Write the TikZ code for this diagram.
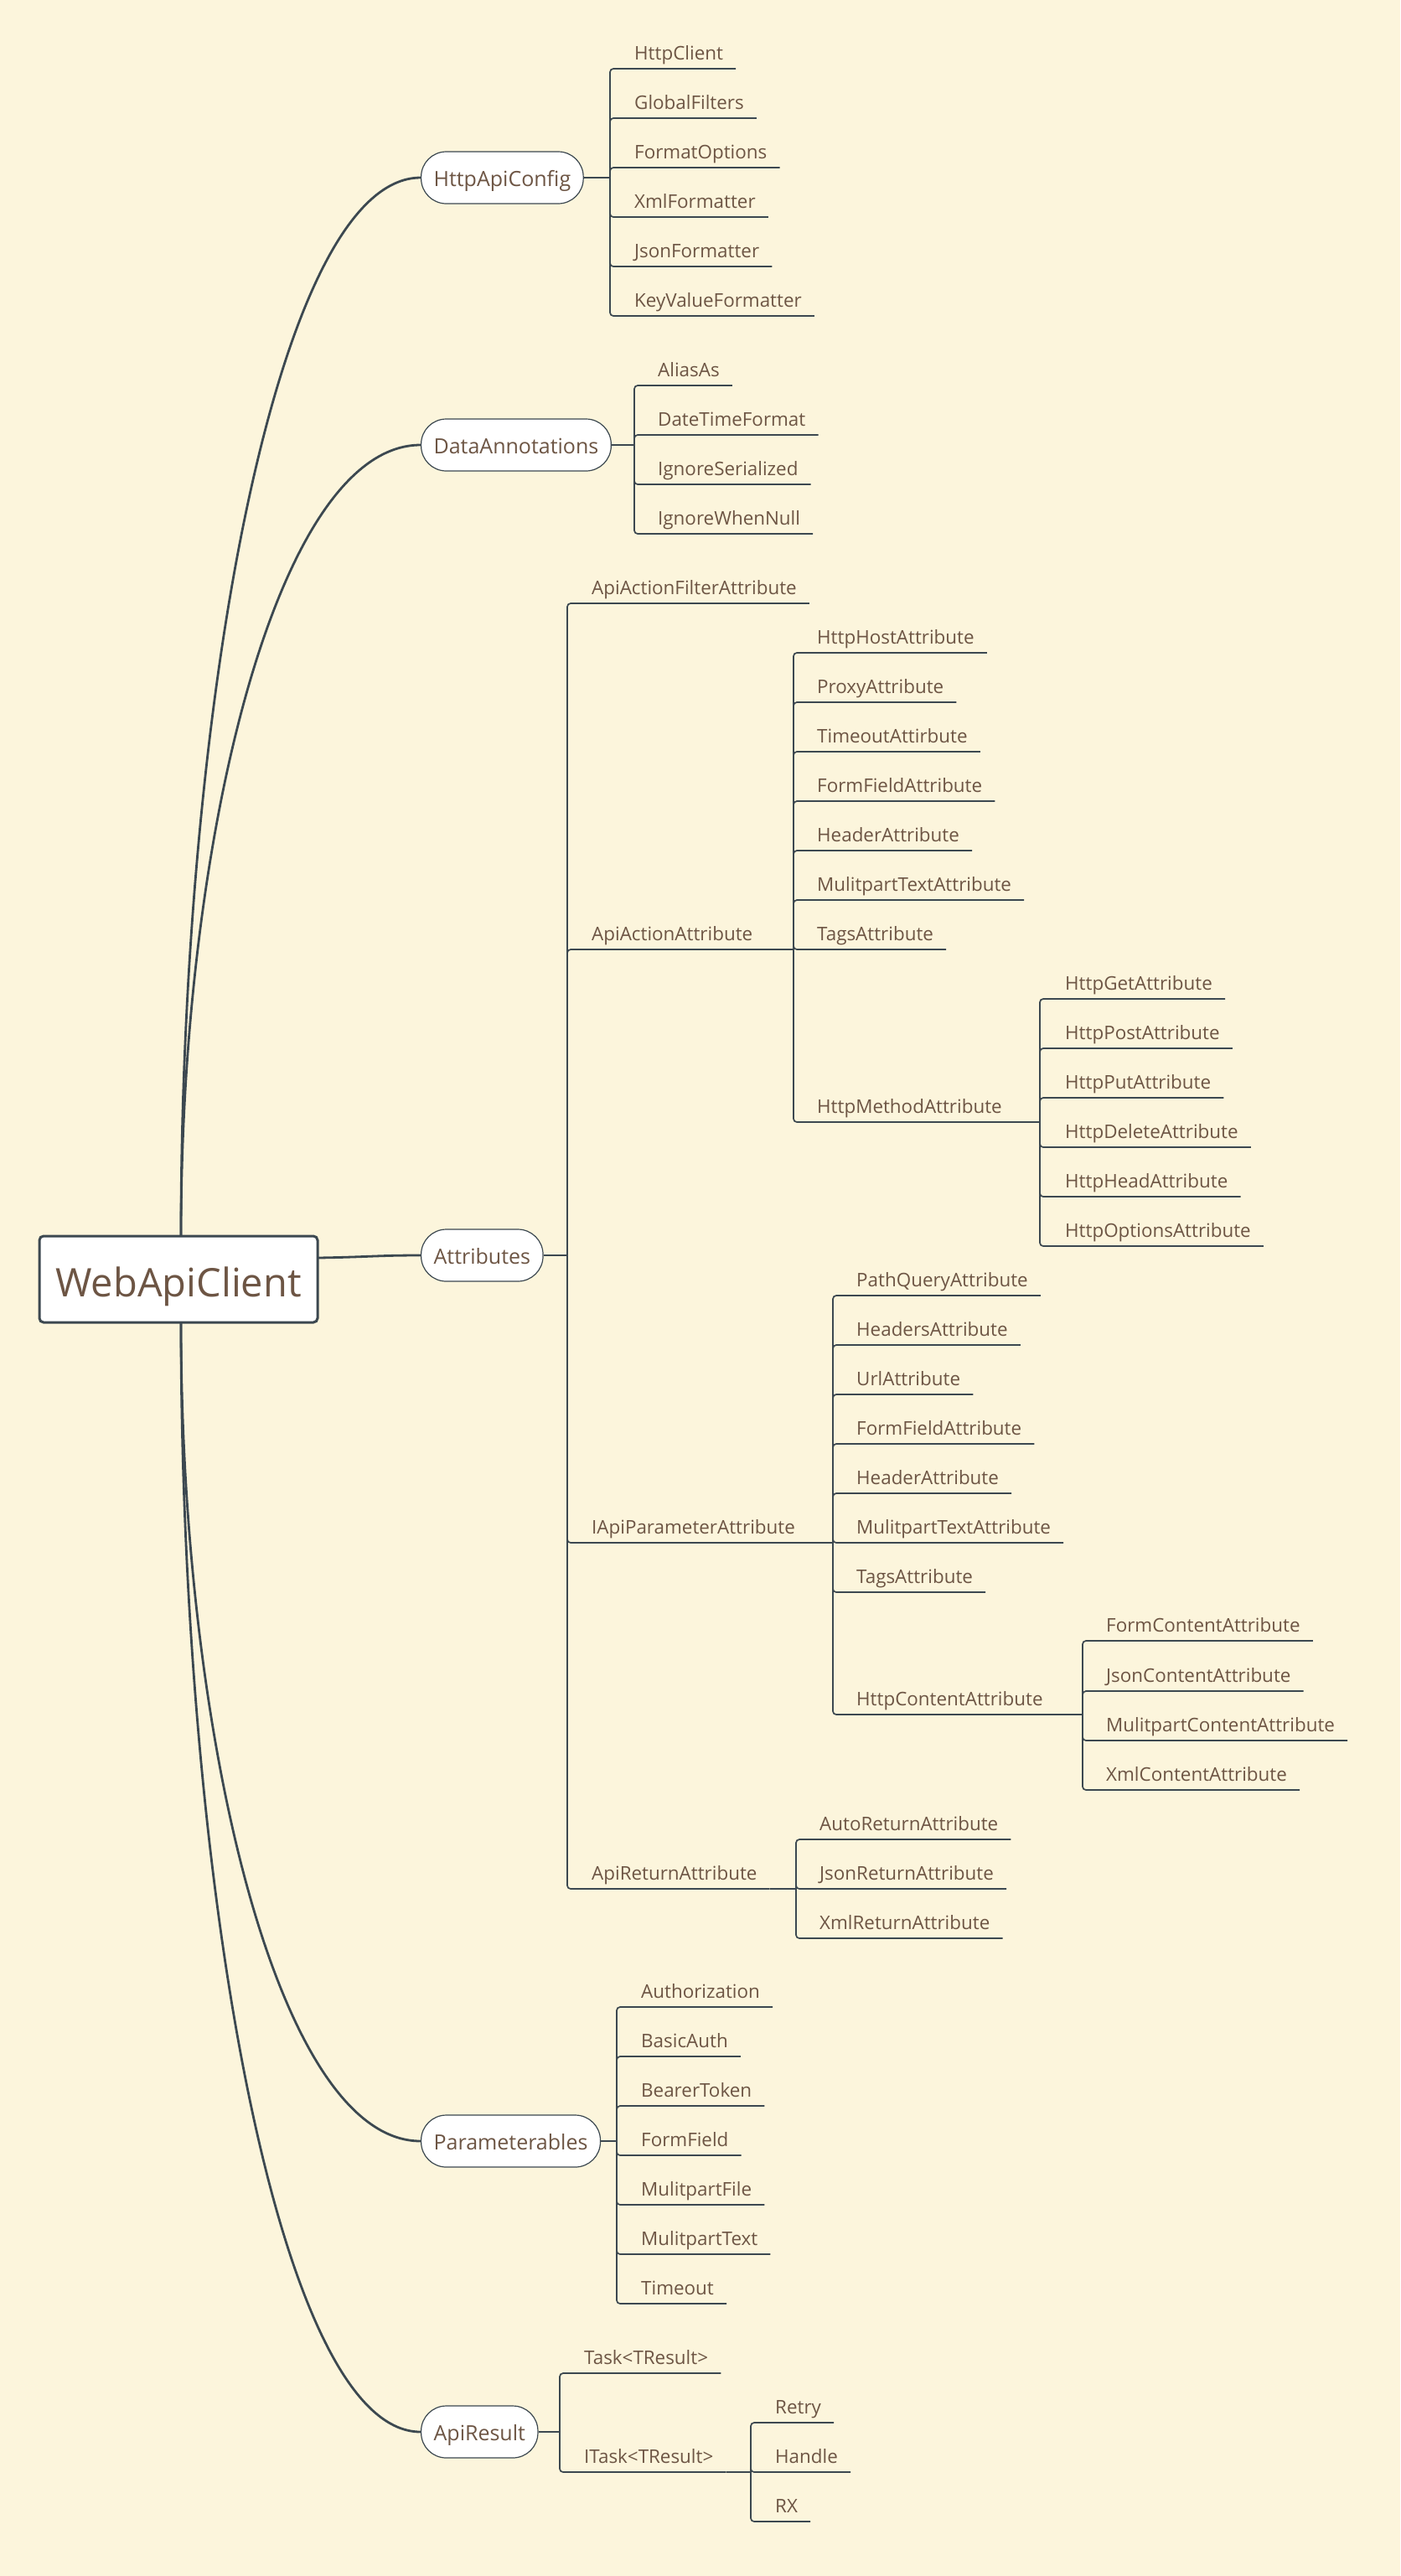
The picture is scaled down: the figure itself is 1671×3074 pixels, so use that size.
\documentclass[tikz,border=0pt]{standalone}
\usepackage{fontspec}
\setmainfont{Open Sans}
\usetikzlibrary{calc}
\definecolor{bgc}{HTML}{FCF5DC}
\definecolor{linec}{HTML}{3C4850}
\definecolor{txtc}{HTML}{6D5544}
\newcommand\mkleaf[4]{\node[leaf] (#1) at (#2,#3-11) {#4};}
\newcommand\mkbranch[2]{\draw[branch] (#1) |- ($(#2.base east)+(15,11)$);}
\begin{document}
\begin{tikzpicture}[x=1pt,y=-1pt,
  leaf/.style={inner sep=0pt, anchor=base west, text=txtc, font=\fontsize{22.4}{26}\selectfont},
  pill/.style={draw=linec, line width=1.2pt, fill=white, rounded corners=30pt, minimum height=62pt, inner xsep=15pt, inner ysep=0pt, text height=20pt, text depth=0pt, anchor=west, text=txtc, font=\fontsize{25}{30}\selectfont},
  rootbox/.style={draw=linec, line width=3pt, fill=white, rounded corners=5pt, minimum width=332pt, minimum height=103pt, inner sep=0pt, text height=41pt, text depth=0pt, text=txtc, font=\fontsize{47}{56}\selectfont},
  curvel/.style={draw=linec, line width=2.8pt},
  stem/.style={draw=linec, line width=2.6pt},
  branch/.style={draw=linec, line width=1.7pt, rounded corners=4pt},
]
\fill[bgc] (0,0) rectangle (1671,3074);
\useasboundingbox (0,0) rectangle (1671,3074);

% root and main nodes
\node[rootbox] (root) at (213,1526.5) {WebApiClient};
\node[pill] (hac) at (502,212) {HttpApiConfig};
\node[pill] (dan) at (502,531) {DataAnnotations};
\node[pill] (att) at (502,1498) {Attributes};
\node[pill] (par) at (502,2555) {Parameterables};
\node[pill] (res) at (502,2902) {ApiResult};

\coordinate (rt) at (216,1475);
\coordinate (rb) at (216,1578);
\coordinate (re) at (379,1501);
\draw[curvel] (rt) .. controls (216,843.5) and (330,212) .. (hac.west);
\draw[curvel] (rt) .. controls (216,1003) and (330,531) .. (dan.west);
\draw[curvel] (rb) .. controls (216,2066.5) and (330,2555) .. (par.west);
\draw[curvel] (rb) .. controls (216,2240) and (330,2902) .. (res.west);
\draw[curvel] (re) .. controls (440,1500) and (450,1498) .. (att.west);

% junctions
\coordinate (jA) at (728,212);
\coordinate (jD) at (757,531);
\coordinate (jT) at (677,1498);
\coordinate (jP) at (736,2555);
\coordinate (jR) at (668,2902);
\coordinate (j32) at (947,1133);
\coordinate (j328) at (1241,1339);
\coordinate (j33) at (994,1841);
\coordinate (j338) at (1292,2046);
\coordinate (j34) at (950,2254);
\coordinate (j52) at (896,2950);

\draw[stem] (hac.east) -- (jA);
\draw[stem] (dan.east) -- (jD);
\draw[stem] (att.east) -- (jT);
\draw[stem] (par.east) -- (jP);
\draw[stem] (res.east) -- (jR);

% HttpApiConfig
\mkleaf{n11}{757}{82}{HttpClient}
\mkleaf{n12}{757}{141}{GlobalFilters}
\mkleaf{n13}{757}{200}{FormatOptions}
\mkleaf{n14}{757}{259}{XmlFormatter}
\mkleaf{n15}{757}{318}{JsonFormatter}
\mkleaf{n16}{757}{377}{KeyValueFormatter}
\foreach \n in {n11,n12,n13,n14,n15,n16} {\mkbranch{jA}{\n}}

% DataAnnotations
\mkleaf{n21}{785}{460}{AliasAs}
\mkleaf{n22}{785}{519}{DateTimeFormat}
\mkleaf{n23}{785}{578}{IgnoreSerialized}
\mkleaf{n24}{785}{637}{IgnoreWhenNull}
\foreach \n in {n21,n22,n23,n24} {\mkbranch{jD}{\n}}

% Attributes
\mkleaf{n31}{706}{720}{ApiActionFilterAttribute}
\mkleaf{n32}{706}{1133}{ApiActionAttribute}
\mkleaf{n33}{706}{1841}{IApiParameterAttribute}
\mkleaf{n34}{706}{2254}{ApiReturnAttribute}
\foreach \n in {n31,n32,n33,n34} {\mkbranch{jT}{\n}}
\draw[stem] ($(n32.base east)+(15,11)$) -- (j32);
\draw[stem] ($(n33.base east)+(15,11)$) -- (j33);
\draw[stem] ($(n34.base east)+(15,11)$) -- (j34);

\mkleaf{n321}{975}{779}{HttpHostAttribute}
\mkleaf{n322}{975}{838}{ProxyAttribute}
\mkleaf{n323}{975}{897}{TimeoutAttirbute}
\mkleaf{n324}{975}{956}{FormFieldAttribute}
\mkleaf{n325}{975}{1015}{HeaderAttribute}
\mkleaf{n326}{975}{1074}{MulitpartTextAttribute}
\mkleaf{n327}{975}{1133}{TagsAttribute}
\mkleaf{n328}{975}{1339}{HttpMethodAttribute}
\foreach \n in {n321,n322,n323,n324,n325,n326,n327,n328} {\mkbranch{j32}{\n}}
\draw[stem] ($(n328.base east)+(15,11)$) -- (j328);

\mkleaf{n3281}{1271}{1192}{HttpGetAttribute}
\mkleaf{n3282}{1271}{1251}{HttpPostAttribute}
\mkleaf{n3283}{1271}{1310}{HttpPutAttribute}
\mkleaf{n3284}{1271}{1369}{HttpDeleteAttribute}
\mkleaf{n3285}{1271}{1428}{HttpHeadAttribute}
\mkleaf{n3286}{1271}{1487}{HttpOptionsAttribute}
\foreach \n in {n3281,n3282,n3283,n3284,n3285,n3286} {\mkbranch{j328}{\n}}

\mkleaf{n331}{1022}{1546}{PathQueryAttribute}
\mkleaf{n332}{1022}{1605}{HeadersAttribute}
\mkleaf{n333}{1022}{1664}{UrlAttribute}
\mkleaf{n334}{1022}{1723}{FormFieldAttribute}
\mkleaf{n335}{1022}{1782}{HeaderAttribute}
\mkleaf{n336}{1022}{1841}{MulitpartTextAttribute}
\mkleaf{n337}{1022}{1900}{TagsAttribute}
\mkleaf{n338}{1022}{2046}{HttpContentAttribute}
\foreach \n in {n331,n332,n333,n334,n335,n336,n337,n338} {\mkbranch{j33}{\n}}
\draw[stem] ($(n338.base east)+(15,11)$) -- (j338);

\mkleaf{n3381}{1320}{1958}{FormContentAttribute}
\mkleaf{n3382}{1320}{2018}{JsonContentAttribute}
\mkleaf{n3383}{1320}{2077}{MulitpartContentAttribute}
\mkleaf{n3384}{1320}{2136}{XmlContentAttribute}
\foreach \n in {n3381,n3382,n3383,n3384} {\mkbranch{j338}{\n}}

\mkleaf{n341}{978}{2195}{AutoReturnAttribute}
\mkleaf{n342}{978}{2254}{JsonReturnAttribute}
\mkleaf{n343}{978}{2313}{XmlReturnAttribute}
\foreach \n in {n341,n342,n343} {\mkbranch{j34}{\n}}

% Parameterables
\mkleaf{n41}{765}{2395}{Authorization}
\mkleaf{n42}{765}{2454}{BasicAuth}
\mkleaf{n43}{765}{2513}{BearerToken}
\mkleaf{n44}{765}{2572}{FormField}
\mkleaf{n45}{765}{2631}{MulitpartFile}
\mkleaf{n46}{765}{2690}{MulitpartText}
\mkleaf{n47}{765}{2749}{Timeout}
\foreach \n in {n41,n42,n43,n44,n45,n46,n47} {\mkbranch{jP}{\n}}

% ApiResult
\mkleaf{n51}{697}{2832}{Task<TResult>}
\mkleaf{n52}{697}{2950}{ITask<TResult>}
\foreach \n in {n51,n52} {\mkbranch{jR}{\n}}
\draw[stem] ($(n52.base east)+(15,11)$) -- (j52);

\mkleaf{n521}{925}{2891}{Retry}
\mkleaf{n522}{925}{2950}{Handle}
\mkleaf{n523}{925}{3009}{RX}
\foreach \n in {n521,n522,n523} {\mkbranch{j52}{\n}}
\end{tikzpicture}
\end{document}
